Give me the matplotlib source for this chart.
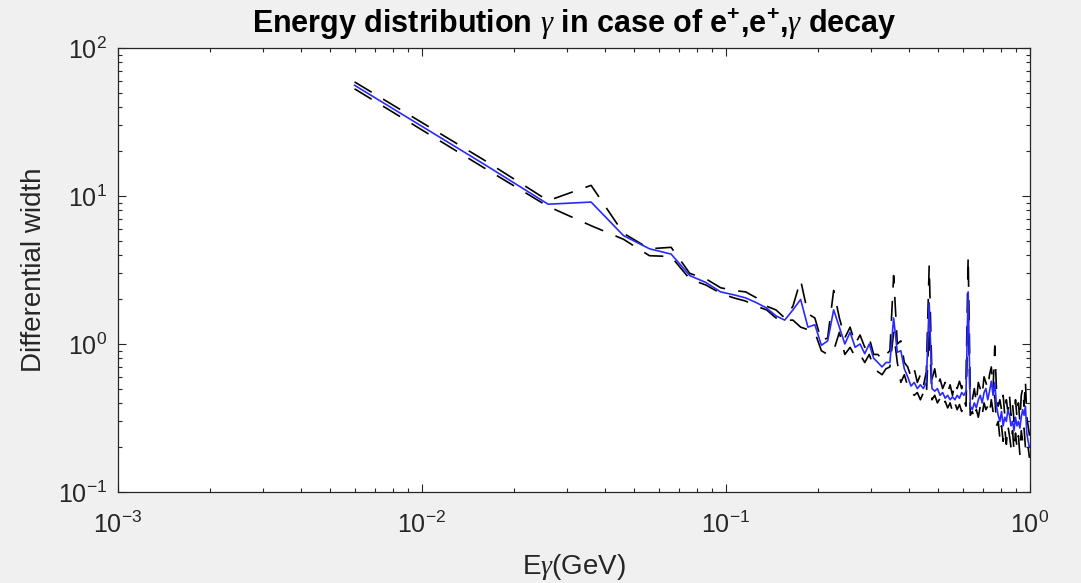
import numpy as np
import matplotlib
matplotlib.use("Agg")
import matplotlib.pyplot as plt
from matplotlib.ticker import LogLocator, LogFormatterSciNotation, NullFormatter

plt.rcParams['font.family'] = ['Liberation Sans', 'DejaVu Sans']
plt.rcParams['mathtext.fontset'] = 'custom'
plt.rcParams['mathtext.rm'] = 'Liberation Sans'
plt.rcParams['mathtext.it'] = 'Liberation Serif:italic'
plt.rcParams['mathtext.bf'] = 'Liberation Sans:bold'
plt.rcParams['mathtext.default'] = 'regular'

# Photon energy grid (GeV)
energy = [0.006 + 0.01 * k for k in range(100)]

# Central differential width (blue)
width_central = [
    56, 16.4, 8.8, 9.1, 5.4, 4.4, 4.05, 2.9, 2.6, 2.25,
    2.15, 2.05, 1.9, 1.75, 1.55, 1.45, 1.7, 2.0, 1.3, 1.35,
    0.98, 1.05, 1.7, 1.3, 1.0, 1.2, 0.95, 1.0, 0.86, 1.0,
    0.8, 0.75, 0.7, 0.75, 0.75, 1.5, 0.88, 0.9, 0.68, 0.6,
    0.52, 0.55, 0.5, 0.53, 0.5, 0.55, 1.9, 0.5, 0.48, 0.5,
    0.45, 0.47, 0.43, 0.45, 0.42, 0.44, 0.42, 0.45, 0.43, 0.47,
    0.45, 0.48, 2.25, 0.38, 0.36, 0.4, 0.37, 0.42, 0.45, 0.4,
    0.47, 0.5, 0.42, 0.48, 0.56, 0.45, 0.55, 0.38, 0.33, 0.3,
    0.35, 0.28, 0.32, 0.3, 0.36, 0.33, 0.28, 0.3, 0.26, 0.32,
    0.28, 0.3, 0.27, 0.32, 0.36, 0.33, 0.38, 0.25, 0.22, 0.2,
]

# Upper bound (black dashed)
width_upper = [
    59, 17.5, 9.3, 11.8, 5.6, 4.4, 4.5, 3.0, 2.75, 2.4,
    2.3, 2.25, 2.05, 1.8, 1.7, 1.5, 1.8, 2.7, 1.6, 1.5,
    1.05, 1.1, 2.3, 1.5, 1.1, 1.3, 1.0, 1.15, 0.95, 1.1,
    0.85, 0.85, 0.78, 0.85, 0.9, 2.9, 1.0, 1.05, 0.75, 0.7,
    0.6, 0.68, 0.55, 0.62, 0.52, 0.65, 3.4, 0.58, 0.68, 0.52,
    0.58, 0.5, 0.55, 0.47, 0.53, 0.45, 0.55, 0.5, 0.56, 0.5,
    0.6, 0.57, 3.9, 0.47, 0.42, 0.5, 0.4, 0.55, 0.5, 0.45,
    0.6, 0.55, 0.5, 0.62, 0.7, 0.5, 0.97, 0.48, 0.38, 0.42,
    0.36, 0.45, 0.33, 0.42, 0.35, 0.45, 0.33, 0.4, 0.3, 0.42,
    0.32, 0.4, 0.3, 0.45, 0.5, 0.38, 0.56, 0.32, 0.28, 0.24,
]

# Lower bound (black dashed)
width_lower = [
    53, 15.5, 8.5, 6.3, 5.1, 3.95, 3.9, 2.75, 2.5, 2.2,
    2.05, 1.95, 1.8, 1.7, 1.5, 1.45, 1.45, 1.3, 1.25, 1.2,
    0.9, 0.85, 0.9, 1.2, 0.85, 0.95, 0.82, 0.85, 0.75, 0.85,
    0.7, 0.65, 0.62, 0.68, 0.7, 1.2, 0.75, 0.55, 0.62, 0.52,
    0.48, 0.45, 0.47, 0.42, 0.47, 0.44, 1.3, 0.42, 0.45, 0.4,
    0.43, 0.38, 0.41, 0.37, 0.4, 0.35, 0.4, 0.36, 0.39, 0.35,
    0.42, 0.38, 1.8, 0.33, 0.35, 0.31, 0.36, 0.32, 0.38, 0.33,
    0.4, 0.36, 0.38, 0.34, 0.42, 0.35, 0.45, 0.28, 0.3, 0.23,
    0.28, 0.22, 0.27, 0.21, 0.28, 0.24, 0.2, 0.26, 0.19, 0.25,
    0.2, 0.24, 0.18, 0.26, 0.22, 0.27, 0.2, 0.18, 0.2, 0.17,
]

x_limits = (1e-3, 1.0)
y_limits = (1e-1, 1e2)

W, H = 1081, 583
fig = plt.figure(figsize=(W / 100, H / 100), dpi=100, facecolor='#f0f0f0')
ax = fig.add_axes([118 / W, 1 - 492 / H, 912 / W, 444 / H])
ax.set_facecolor('white')

dash = (0, (12, 8))
ax.plot(energy, width_upper, color='black', lw=1.2, linestyle=dash)
ax.plot(energy, width_lower, color='black', lw=1.2, linestyle=dash)
ax.plot(energy, width_central, color='#2a2aff', lw=1.2)

ax.set_xscale('log')
ax.set_yscale('log')
ax.set_xlim(*x_limits)
ax.set_ylim(*y_limits)

axc = '#262626'
for s in ax.spines.values():
    s.set_color(axc)
    s.set_linewidth(0.9)

for axis in (ax.xaxis, ax.yaxis):
    axis.set_major_locator(LogLocator(base=10, numticks=10))
    axis.set_minor_locator(LogLocator(base=10, subs=np.arange(2, 10), numticks=20))
    axis.set_major_formatter(LogFormatterSciNotation())
    axis.set_minor_formatter(NullFormatter())

ax.tick_params(which='both', direction='in', top=True, right=True, colors=axc,
               labelcolor=axc, width=0.8)
ax.tick_params(which='major', length=6, labelsize=18)
ax.tick_params(axis='x', which='major', pad=14)
ax.tick_params(axis='y', which='major', pad=8)
ax.tick_params(which='minor', length=3)

ax.set_xlabel(r'E$\mathit{\gamma}$(GeV)', fontsize=20, color=axc, labelpad=10)
ax.set_ylabel('Differential width', fontsize=20, color=axc, labelpad=8)
ax.set_title(r'Energy distribution $\mathit{\gamma}$ in case of e$^{+}$,e$^{+}$,$\mathit{\gamma}$ decay',
             fontsize=22, fontweight='bold', color='black', pad=11)

fig.savefig('out.png', dpi=100, facecolor=fig.get_facecolor())
